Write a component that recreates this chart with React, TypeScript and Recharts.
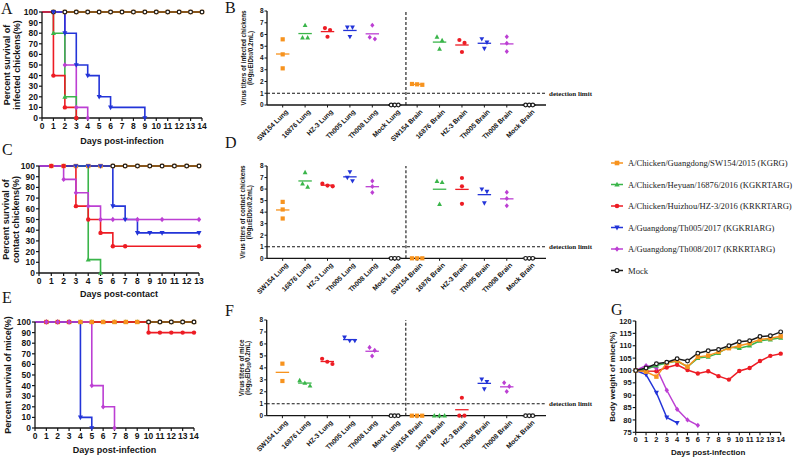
import React from 'react';
import { LineChart, Line, ScatterChart, Scatter, XAxis, YAxis, ReferenceLine } from 'recharts';

const ORANGE = '#F7931E';
const GREEN = '#3AB54A';
const RED = '#ED1C24';
const BLUE = '#2334D8';
const PURPLE = '#BC3FD3';
const BLACK = '#1A1A1A';
const INK = '#151515';

// legend order
const strainNames = [
  'A/Chicken/Guangdong/SW154/2015 (KGRG)',
  'A/Chicken/Heyuan/16876/2016 (KGKRTARG)',
  'A/Chicken/Huizhou/HZ-3/2016 (KRKRTARG)',
  'A/Guangdong/Th005/2017 (KGKRIARG)',
  'A/Guangdong/Th008/2017 (KRKRTARG)',
  'Mock',
];
const strainColors = [ORANGE, GREEN, RED, BLUE, PURPLE, BLACK];
const strainShapes = ['square', 'triangle', 'circle', 'down', 'diamond', 'open'];

const tissueCategories = [
  'SW154 Lung', '16876 Lung', 'HZ-3 Lung', 'Th005 Lung', 'Th008 Lung', 'Mock Lung',
  'SW154 Brain', '16876 Brain', 'HZ-3 Brain', 'Th005 Brain', 'Th008 Brain', 'Mock Brain',
];
const categoryTicks = [0, 1, 2, 3, 4, 5, 6, 7, 8, 9, 10, 11];
const titerTicks = [0, 1, 2, 3, 4, 5, 6, 7, 8];
const survivalTicks = [0, 10, 20, 30, 40, 50, 60, 70, 80, 90, 100];
const days14 = [0, 1, 2, 3, 4, 5, 6, 7, 8, 9, 10, 11, 12, 13, 14];
const days13 = [0, 1, 2, 3, 4, 5, 6, 7, 8, 9, 10, 11, 12, 13];
const weightTicks = [75, 80, 85, 90, 95, 100, 105, 110, 115, 120];

// A: infected chickens, [day, % survival]
const infSW154 = [[0, 100], [1, 100], [2, 100], [3, 100], [4, 100], [5, 100], [6, 100], [7, 100], [8, 100], [9, 100], [10, 100], [11, 100], [12, 100], [13, 100], [14, 100]];
const inf16876 = [[0, 100], [1, 80], [2, 20], [3, 0]];
const infHZ3 = [[0, 100], [1, 40], [2, 10], [3, 0]];
const infTh005 = [[0, 100], [1, 100], [2, 80], [3, 50], [4, 40], [5, 20], [6, 10], [9, 0]];
const infTh008 = [[0, 100], [2, 50], [3, 10], [4, 0]];
const infMock = [[0, 100], [1, 100], [2, 100], [3, 100], [4, 100], [5, 100], [6, 100], [7, 100], [8, 100], [9, 100], [10, 100], [11, 100], [12, 100], [13, 100], [14, 100]];

// C: contact chickens
const conSW154 = [[0, 100], [1, 100], [2, 100], [3, 100], [4, 100], [5, 100], [6, 100], [7, 100], [8, 100], [9, 100], [10, 100], [11, 100], [12, 100], [13, 100]];
const con16876 = [[0, 100], [4, 12.5], [5, 0]];
const conHZ3 = [[0, 100], [1, 100], [2, 100], [3, 62.5], [4, 50], [5, 37.5], [6, 25], [7, 25], [13, 25]];
const conTh005 = [[0, 100], [3, 100], [4, 100], [5, 100], [6, 62.5], [7, 50], [8, 37.5], [9, 37.5], [10, 37.5], [13, 37.5]];
const conTh008 = [[0, 100], [2, 87.5], [3, 75], [4, 62.5], [5, 50], [6, 50], [8, 50], [10, 50], [13, 50]];
const conMock = [[0, 100], [6, 100], [7, 100], [8, 100], [9, 100], [10, 100], [11, 100], [12, 100], [13, 100]];

// E: mice
const miceSW154 = [[0, 100], [1, 100], [2, 100], [3, 100], [4, 100], [5, 100], [6, 100], [7, 100], [8, 100], [9, 100], [10, 100], [11, 100], [12, 100], [13, 100], [14, 100]];
const mice16876 = [[0, 100], [1, 100], [2, 100], [3, 100], [4, 100], [5, 100], [6, 100], [7, 100], [8, 100], [9, 100], [10, 100], [11, 100], [12, 100], [13, 100], [14, 100]];
const miceHZ3 = [[0, 100], [1, 100], [2, 100], [3, 100], [10, 90], [11, 90], [12, 90], [13, 90], [14, 90]];
const miceTh005 = [[0, 100], [4, 10], [5, 0]];
const miceTh008 = [[0, 100], [1, 100], [2, 100], [3, 100], [5, 40], [6, 20], [7, 0]];
const miceMock = [[0, 100], [10, 100], [11, 100], [12, 100], [13, 100], [14, 100]];

// B, D, F: log10 EID50/0.2mL, one array per strain (SW154, 16876, HZ-3, Th005, Th008, Mock)
const infectedLung = [[5.59, 4.31, 3.12], [6.78, 5.73, 5.73], [6.55, 6.38, 5.81], [6.61, 6.61, 5.81], [6.78, 5.77, 5.62], [0, 0, 0]];
const infectedBrain = [[1.79, 1.72, 1.76], [5.79, 5.5, 4.77], [5.53, 5.28, 4.51], [5.62, 5.34, 4.8], [5.8, 5.25, 4.55], [0, 0, 0]];
const contactLung = [[4.89, 4.23, 3.45], [7.45, 6.47, 6.19], [6.47, 6.24, 6.3], [7.48, 7.0, 6.7], [6.7, 6.22, 5.7], [0, 0, 0]];
const contactBrain = [[0, 0, 0], [6.68, 6.59, 4.69], [6.96, 6.24, 4.72], [5.99, 5.78, 4.78], [5.73, 5.18, 4.55], [0, 0, 0]];
const miceLung = [[4.35, 2.9], [2.95, 2.73, 2.5], [4.76, 4.51, 4.32], [6.55, 6.27, 6.27], [5.71, 5.46, 4.99], [0, 0, 0]];
const miceBrain = [[0, 0, 0], [0, 0, 0], [1.5, 0, 0], [3.04, 2.84, 2.23], [2.76, 2.45, 2.03], [0, 0, 0]];

// G: body weight (%) by day
const wSW154 = [100, 99.5, 97.5, 103, 104, 101.5, 105.5, 106, 107.5, 109, 110, 111, 112.5, 113, 113.8];
const w16876 = [100, 100.5, 102, 103, 103.8, 101.5, 105, 105.5, 107, 109.5, 109, 110, 112, 112.5, 113.2];
const wHZ3 = [100, 99.8, 99.7, 101.2, 102.3, 100.2, 98.8, 99.7, 97.7, 96.3, 99.8, 101, 103.8, 105.9, 106.8];
const wTh005 = [100, 98.3, 91, 81, 78.8];
const wTh008 = [100, 102, 101, 92, 84.3, 80, 77.8];
const wMock = [100, 101, 102.7, 103.3, 104.7, 103.8, 107, 108, 108.5, 110, 111.6, 112, 113.7, 114, 115.6];

const SANS = '"Liberation Sans", Arial, sans-serif';
const SERIF = '"Liberation Serif", "Times New Roman", serif';

const Marker = ({ shape, cx, cy, color, r }: any) => {
  if (cx == null || cy == null) return <g />;
  switch (shape) {
    case 'square':
      return <rect x={cx - r} y={cy - r} width={2 * r} height={2 * r} fill={color} />;
    case 'triangle':
      return <path d={`M${cx},${cy - r * 1.25}L${cx + r * 1.15},${cy + r * 0.85}L${cx - r * 1.15},${cy + r * 0.85}Z`} fill={color} />;
    case 'down':
      return <path d={`M${cx},${cy + r * 1.25}L${cx + r * 1.15},${cy - r * 0.85}L${cx - r * 1.15},${cy - r * 0.85}Z`} fill={color} />;
    case 'diamond':
      return <path d={`M${cx},${cy - r * 1.2}L${cx + r},${cy}L${cx},${cy + r * 1.2}L${cx - r},${cy}Z`} fill={color} />;
    case 'open':
      return <circle cx={cx} cy={cy} r={r * 0.85} fill="#fff" stroke={color} strokeWidth={1.2} />;
    default:
      return <circle cx={cx} cy={cy} r={r} fill={color} />;
  }
};

// rotated multi-line axis title; lines are [x, content]
const YTitle = ({ lines, cy, fontSize }: any) => (
  <g>
    {lines.map(([x, content]: any, i: number) => (
      <text key={i} x={x} y={cy} transform={`rotate(-90 ${x} ${cy})`} textAnchor="middle" dominantBaseline="central"
        fontSize={fontSize} fontWeight={700} fill={INK} fontFamily={SANS}>
        {content}
      </text>
    ))}
  </g>
);

const toPts = (arr: number[][]) => arr.map(([x, y]) => ({ x, y }));

const SurvivalPanel = ({ box, plot, xTicks, xLabel, titleLines, series }: any) => {
  const margin = { top: plot.y0 - box.t, right: box.l + box.w - plot.x1, left: 0, bottom: box.t + box.h - plot.y1 - box.xh };
  const cy = (plot.y0 + plot.y1) / 2 - box.t;
  return (
    <div style={{ position: 'absolute', left: box.l, top: box.t }}>
      <LineChart width={box.w} height={box.h} margin={margin}>
        <XAxis type="number" dataKey="x" domain={[0, xTicks[xTicks.length - 1]]} ticks={xTicks} interval={0} height={box.xh}
          tick={{ fontSize: 8.5, fontWeight: 700, fill: INK }} tickSize={3} tickMargin={2}
          axisLine={{ stroke: INK, strokeWidth: 1.3 }} tickLine={{ stroke: INK, strokeWidth: 1.2 }}
          label={{ value: xLabel, position: 'insideBottom', offset: box.xo, fontSize: 9, fontWeight: 700, fill: INK }} />
        <YAxis type="number" dataKey="y" domain={[0, 100]} ticks={survivalTicks} interval={0} width={plot.x0 - box.l}
          tick={{ fontSize: 8.5, fontWeight: 700, fill: INK }} tickSize={3} tickMargin={1}
          axisLine={{ stroke: INK, strokeWidth: 1.3 }} tickLine={{ stroke: INK, strokeWidth: 1.2 }}
          label={<YTitle lines={titleLines} cy={cy} fontSize={9} />} />
        {series.map((s: any) => (
          <Line key={s.key} data={toPts(s.pts)} dataKey="y" type="stepAfter" stroke={s.color} strokeWidth={s.w || 1.6}
            isAnimationActive={false}
            dot={(p: any) => p.payload.x === 0
              ? <g key={p.index} />
              : <Marker key={p.index} shape={s.shape} cx={p.cx} cy={p.cy} color={s.color} r={2.2} />} />
        ))}
      </LineChart>
    </div>
  );
};

// spread near-equal values side by side, like a scatter dot plot
const spread = (vals: number[], step: number) => {
  const idx = vals.map((_, i) => i).sort((a, b) => vals[b] - vals[a]);
  const off = vals.map(() => 0);
  let cluster = [idx[0]];
  const flush = () => cluster.forEach((k, j) => { off[k] = (j - (cluster.length - 1) / 2) * step; });
  for (let j = 1; j < idx.length; j++) {
    if (vals[idx[j - 1]] - vals[idx[j]] < 0.35) cluster.push(idx[j]);
    else { flush(); cluster = [idx[j]]; }
  }
  flush();
  return off;
};

const CatTick = ({ x, y, payload }: any) => (
  <g transform={`translate(${x + 3},${y + 1})`}>
    <text transform="rotate(-45)" textAnchor="end" dy={4} fontSize={6.8} fontWeight={700} fill={INK} fontFamily={SANS}>
      {tissueCategories[payload.value]}
    </text>
  </g>
);

const DotPanel = ({ box, plot, lung, brain, titleLines }: any) => {
  const margin = { top: plot.y0 - box.t, right: box.l + box.w - plot.x1, left: 0, bottom: box.t + box.h - plot.y1 - box.xh };
  const cy = (plot.y0 + plot.y1) / 2 - box.t;
  const groups: any[] = [];
  strainColors.forEach((color, s) => {
    [lung[s], brain[s]].forEach((vals: number[], t: number) => {
      const cat = t * 6 + s;
      const off = spread(vals, s === 5 ? 0.16 : 0.23);
      const mean = vals.reduce((a, b) => a + b, 0) / vals.length;
      groups.push({ s, cat, mean, pts: vals.map((v, k) => ({ x: cat + off[k], y: v })) });
    });
  });
  return (
    <div style={{ position: 'absolute', left: box.l, top: box.t }}>
      <ScatterChart width={box.w} height={box.h} margin={margin}>
        <XAxis type="number" dataKey="x" domain={[-0.7, 11.75]} ticks={categoryTicks} interval={0} height={box.xh}
          tick={<CatTick />} tickSize={2.5} tickMargin={1}
          axisLine={{ stroke: INK, strokeWidth: 1.3 }} tickLine={{ stroke: INK, strokeWidth: 1 }} />
        <YAxis type="number" dataKey="y" domain={[0, 8]} ticks={titerTicks} interval={0} width={plot.x0 - box.l}
          tick={{ fontSize: 6.5, fontWeight: 700, fill: INK }} tickSize={2.5} tickMargin={1}
          axisLine={{ stroke: INK, strokeWidth: 1.3 }} tickLine={{ stroke: INK, strokeWidth: 1 }}
          label={<YTitle lines={titleLines} cy={cy} fontSize={6.3} />} />
        <ReferenceLine x={5.5} stroke={INK} strokeWidth={1.1} strokeDasharray="3 2" />
        <ReferenceLine y={1} stroke={INK} strokeWidth={1.2} strokeDasharray="3 2"
          label={{ value: 'detection limit', position: 'right', offset: 3, fontSize: 7, fontWeight: 700, fill: INK, fontFamily: SERIF }} />
        {groups.map((g, i) => (
          <ReferenceLine key={`m${i}`} segment={[{ x: g.cat - 0.3, y: g.mean }, { x: g.cat + 0.3, y: g.mean }]}
            stroke={strainColors[g.s]} strokeWidth={1.3} />
        ))}
        {groups.map((g, i) => (
          <Scatter key={`s${i}`} data={g.pts} isAnimationActive={false}
            shape={(p: any) => <Marker shape={strainShapes[g.s]} cx={p.cx} cy={p.cy} color={strainColors[g.s]} r={2.1} />} />
        ))}
      </ScatterChart>
    </div>
  );
};

const WeightPanel = () => {
  const box = { l: 600, t: 300, w: 196, h: 157 };
  const plot = { x0: 635.7, y0: 321, x1: 780.7, y1: 432.3 };
  const xh = 23;
  const margin = { top: plot.y0 - box.t, right: box.l + box.w - plot.x1, left: 0, bottom: box.t + box.h - plot.y1 - xh };
  const series = [
    { key: 'hz3', vals: wHZ3, i: 2 },
    { key: 'th005', vals: wTh005, i: 3 },
    { key: 'th008', vals: wTh008, i: 4 },
    { key: '16876', vals: w16876, i: 1 },
    { key: 'sw154', vals: wSW154, i: 0 },
    { key: 'mock', vals: wMock, i: 5 },
  ];
  return (
    <div style={{ position: 'absolute', left: box.l, top: box.t }}>
      <LineChart width={box.w} height={box.h} margin={margin}>
        <XAxis type="number" dataKey="x" domain={[0, 14]} ticks={days14} interval={0} height={xh}
          tick={{ fontSize: 7.5, fontWeight: 700, fill: INK }} tickSize={3} tickMargin={1}
          axisLine={{ stroke: INK, strokeWidth: 1.3 }} tickLine={{ stroke: INK, strokeWidth: 1.1 }}
          label={{ value: 'Days post-infection', position: 'insideBottom', offset: 0, fontSize: 8, fontWeight: 700, fill: INK }} />
        <YAxis type="number" dataKey="y" domain={[75, 120]} ticks={weightTicks} interval={0} width={plot.x0 - box.l}
          tick={{ fontSize: 7.5, fontWeight: 700, fill: INK }} tickSize={3} tickMargin={1}
          axisLine={{ stroke: INK, strokeWidth: 1.3 }} tickLine={{ stroke: INK, strokeWidth: 1.1 }}
          label={<YTitle lines={[[13, 'Body weight of mice(%)']]} cy={(plot.y0 + plot.y1) / 2 - box.t} fontSize={8} />} />
        {series.map((s) => (
          <Line key={s.key} data={s.vals.map((y, x) => ({ x, y }))} dataKey="y" type="linear" stroke={strainColors[s.i]}
            strokeWidth={1.5} isAnimationActive={false}
            dot={(p: any) => <Marker key={p.index} shape={strainShapes[s.i]} cx={p.cx} cy={p.cy} color={strainColors[s.i]} r={2.2} />} />
        ))}
      </LineChart>
    </div>
  );
};

const mk = (key: string, i: number, pts: number[][], w?: number) => ({ key, pts, color: strainColors[i], shape: strainShapes[i], w });

const panelLetters = [
  ['A', 1, 14], ['B', 225, 13], ['C', 2, 155], ['D', 225, 148], ['E', 2, 303], ['F', 225, 316], ['G', 611, 315],
];

export default function App() {
  return (
    <div style={{ position: 'fixed', left: 0, top: 0, width: 796, height: 457, background: '#fff', overflow: 'hidden', fontFamily: SANS }}>
      <svg width={796} height={457} style={{ position: 'absolute', left: 0, top: 0 }}>
        {panelLetters.map(([t, x, y]: any) => (
          <text key={t} x={x} y={y} fontFamily={SERIF} fontSize={16} fill={INK}>{t}</text>
        ))}
        {strainNames.map((n, i) => {
          const y = 163 + i * 21.5;
          return (
            <g key={n}>
              <line x1={611} x2={623} y1={y} y2={y} stroke={strainColors[i]} strokeWidth={1.5} />
              <Marker shape={strainShapes[i]} cx={617} cy={y} color={strainColors[i]} r={2.3} />
              <text x={628} y={y + 3} fontFamily={SERIF} fontSize={8.6} fill="#222">{n}</text>
            </g>
          );
        })}
      </svg>

      <SurvivalPanel
        box={{ l: 0, t: 0, w: 215, h: 146, xh: 28, xo: 2 }}
        plot={{ x0: 42, y0: 12, x1: 202, y1: 118 }}
        xTicks={days14} xLabel="Days post-infection"
        titleLines={[[7, 'Percent survival of'], [17, 'infected chickens(%)']]}
        series={[mk('sw154', 0, infSW154, 2), mk('mock', 5, infMock, 1), mk('th008', 4, infTh008), mk('16876', 1, inf16876),
          mk('th005', 3, infTh005), mk('hz3', 2, infHZ3)]} />

      <SurvivalPanel
        box={{ l: 0, t: 150, w: 215, h: 150, xh: 26, xo: 2 }}
        plot={{ x0: 39, y0: 166, x1: 199, y1: 273 }}
        xTicks={days13} xLabel="Days post-contact"
        titleLines={[[6, 'Percent survival of'], [16, 'contact chickens(%)']]}
        series={[mk('sw154', 0, conSW154, 2), mk('mock', 5, conMock, 1), mk('16876', 1, con16876), mk('hz3', 2, conHZ3),
          mk('th005', 3, conTh005), mk('th008', 4, conTh008)]} />

      <SurvivalPanel
        box={{ l: 0, t: 305, w: 210, h: 152, xh: 28, xo: 3 }}
        plot={{ x0: 35, y0: 322, x1: 194, y1: 428 }}
        xTicks={days14} xLabel="Days post-infection"
        titleLines={[[8, 'Percent survival of mice(%)']]}
        series={[mk('16876', 1, mice16876, 2), mk('sw154', 0, miceSW154, 2), mk('mock', 5, miceMock, 1), mk('hz3', 2, miceHZ3),
          mk('th005', 3, miceTh005), mk('th008', 4, miceTh008)]} />

      <DotPanel
        box={{ l: 190, t: 0, w: 420, h: 146, xh: 41 }}
        plot={{ x0: 267, y0: 11, x1: 546, y1: 105 }}
        lung={infectedLung} brain={infectedBrain}
        titleLines={[[53.5, 'Virus titers of infected chickens'],
          [59.5, <>(log<tspan dy={1.5} fontSize={4.5}>10</tspan><tspan dy={-1.5}>EID</tspan><tspan dy={1.5} fontSize={4.5}>50</tspan><tspan dy={-1.5}>/0.2mL)</tspan></>]]} />

      <DotPanel
        box={{ l: 190, t: 150, w: 420, h: 146, xh: 37 }}
        plot={{ x0: 267, y0: 166, x1: 546, y1: 258.3 }}
        lung={contactLung} brain={contactBrain}
        titleLines={[[53, 'Virus titers of contact chickens'],
          [59, <>(log<tspan dy={1.5} fontSize={4.5}>10</tspan><tspan dy={-1.5}>EID</tspan><tspan dy={1.5} fontSize={4.5}>50</tspan><tspan dy={-1.5}>/0.2mL)</tspan></>]]} />

      <DotPanel
        box={{ l: 190, t: 305, w: 420, h: 152, xh: 41 }}
        plot={{ x0: 266.7, y0: 320, x1: 546, y1: 415.7 }}
        lung={miceLung} brain={miceBrain}
        titleLines={[[51.7, 'Virus titers of mice'],
          [57.3, <>(log<tspan dy={1.5} fontSize={4.5}>10</tspan><tspan dy={-1.5}>EID</tspan><tspan dy={1.5} fontSize={4.5}>50</tspan><tspan dy={-1.5}>/0.2mL)</tspan></>]]} />

      <WeightPanel />
    </div>
  );
}
